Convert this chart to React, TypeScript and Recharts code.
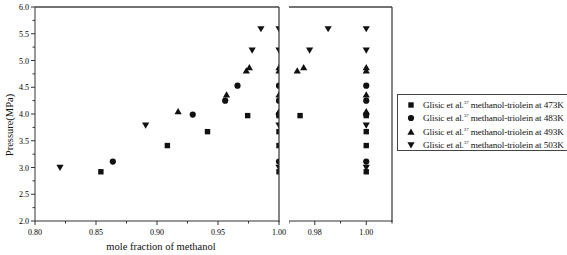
import React from "react";
import { Scatter, ScatterChart, XAxis, YAxis } from "recharts";

// series: bubble points (x < 1) followed by dew points at x = 1.00
const x473 = [0.854, 0.9085, 0.9414, 0.9743, 1, 1, 1, 1];
const p473 = [2.92, 3.41, 3.67, 3.97, 2.92, 3.41, 3.67, 3.97];
const x483 = [0.8638, 0.9293, 0.9559, 0.966, 1, 1, 1, 1];
const p483 = [3.11, 3.99, 4.25, 4.53, 3.11, 3.99, 4.25, 4.53];
const x493 = [0.9173, 0.957, 0.9732, 0.9757, 1, 1, 1, 1];
const p493 = [4.05, 4.36, 4.81, 4.87, 4.05, 4.36, 4.81, 4.87];
const x503 = [0.8205, 0.8907, 0.978, 0.9852, 1, 1, 1, 1];
const p503 = [3.0, 3.79, 5.19, 5.59, 3.0, 3.79, 5.19, 5.59];

const seriesNames = ["473K", "483K", "493K", "503K"];
const leftTicks = [0.8, 0.825, 0.85, 0.875, 0.9, 0.925, 0.95, 0.975, 1.0];
const leftMajor = [0.8, 0.85, 0.9, 0.95, 1.0];
const rightTicks = [0.97, 0.98, 0.99, 1.0, 1.01];
const rightMajor = [0.98, 1.0];
const yTicks = [2, 2.25, 2.5, 2.75, 3, 3.25, 3.5, 3.75, 4, 4.25, 4.5, 4.75, 5, 5.25, 5.5, 5.75, 6];

const ink = "#111";
const axisColor = "#333";
const font = "'Liberation Serif', 'Times New Roman', serif";

type Kind = "square" | "circle" | "up" | "down";
const kinds: Kind[] = ["square", "circle", "up", "down"];

const zip = (xs: number[], ps: number[]) => xs.map((x, i) => ({ x, p: ps[i] }));
const allSeries = [zip(x473, p473), zip(x483, p483), zip(x493, p493), zip(x503, p503)];

const Marker = ({ kind, cx, cy }: { kind: Kind; cx: number; cy: number }) => {
  if (kind === "square") return <rect x={cx - 2.7} y={cy - 2.7} width={5.4} height={5.4} fill={ink} />;
  if (kind === "circle") return <circle cx={cx} cy={cy} r={3.1} fill={ink} />;
  if (kind === "up")
    return <polygon points={`${cx},${cy - 3.4} ${cx + 3.6},${cy + 2.8} ${cx - 3.6},${cy + 2.8}`} fill={ink} />;
  return <polygon points={`${cx},${cy + 3.4} ${cx + 3.6},${cy - 2.8} ${cx - 3.6},${cy - 2.8}`} fill={ink} />;
};

const makeXTick = (major: number[]) => (props: any) => {
  const { x, y, payload } = props;
  const isMajor = major.some((m) => Math.abs(m - payload.value) < 1e-6);
  return (
    <g>
      <line x1={x} x2={x} y1={y} y2={y + (isMajor ? 4 : 2.5)} stroke={axisColor} />
      {isMajor && (
        <text x={x} y={y + 14} textAnchor="middle" fontSize={8} fontFamily={font} fill="#000">
          {payload.value.toFixed(2)}
        </text>
      )}
    </g>
  );
};

const YTick = (props: any) => {
  const { x, y, payload } = props;
  const isMajor = Math.abs(payload.value * 2 - Math.round(payload.value * 2)) < 1e-6;
  return (
    <g>
      <line x1={x} x2={x - (isMajor ? 4 : 2.5)} y1={y} y2={y} stroke={axisColor} />
      {isMajor && (
        <text x={x - 6} y={y + 3} textAnchor="end" fontSize={8} fontFamily={font} fill="#000">
          {payload.value.toFixed(1)}
        </text>
      )}
    </g>
  );
};

const Panel = ({
  width,
  rightMargin,
  domain,
  ticks,
  major,
  yAxisWidth,
  showY,
  minX,
}: {
  width: number;
  rightMargin: number;
  domain: [number, number];
  ticks: number[];
  major: number[];
  yAxisWidth: number;
  showY: boolean;
  minX: number;
}) => (
  <ScatterChart width={width} height={255} margin={{ top: 7, right: rightMargin, left: 0, bottom: 0 }}>
    <XAxis
      type="number"
      dataKey="x"
      domain={domain}
      ticks={ticks}
      interval={0}
      height={34}
      tickSize={0}
      tickMargin={0}
      tickLine={false}
      axisLine={{ stroke: axisColor }}
      tick={makeXTick(major)}
      allowDataOverflow
    />
    <YAxis
      type="number"
      dataKey="p"
      domain={[2, 6]}
      ticks={yTicks}
      interval={0}
      width={yAxisWidth}
      tickSize={0}
      tickMargin={0}
      tickLine={false}
      axisLine={{ stroke: axisColor }}
      tick={showY ? YTick : false}
      allowDataOverflow
    />
    {allSeries.map((s, i) => (
      <Scatter
        key={seriesNames[i]}
        name={seriesNames[i]}
        data={s.filter((d) => d.x >= minX)}
        isAnimationActive={false}
        shape={(p: any) => <Marker kind={kinds[i]} cx={p.cx} cy={p.cy} />}
      />
    ))}
  </ScatterChart>
);

// top and right border of a plot box
const Frame = ({ left, width }: { left: number; width: number }) => (
  <svg width={width + 2} height={220} style={{ position: "absolute", left, top: 5, pointerEvents: "none" }}>
    <line x1={0} x2={width} y1={2} y2={2} stroke="#444" strokeWidth={1.5} />
    <line x1={width} x2={width} y1={2} y2={217} stroke="#333" strokeWidth={1.2} />
  </svg>
);

export default function App() {
  return (
    <div style={{ position: "fixed", left: 0, top: 0, width: 567, height: 255, background: "#fff", fontFamily: font, overflow: "hidden" }}>
      <div style={{ position: "absolute", left: 0, top: 0 }}>
        <Panel width={292} rightMargin={13} domain={[0.8, 1.0]} ticks={leftTicks} major={leftMajor} yAxisWidth={35} showY minX={0.8} />
      </div>
      <div style={{ position: "absolute", left: 289, top: 0 }}>
        <Panel width={104} rightMargin={1} domain={[0.97, 1.01]} ticks={rightTicks} major={rightMajor} yAxisWidth={0} showY={false} minX={0.97} />
      </div>
      <Frame left={35} width={244} />
      <Frame left={289} width={103} />
      <div style={{ position: "absolute", left: 0, top: 125, width: 0, height: 0 }}>
        <div style={{ position: "absolute", transform: "translate(-50%, -50%) rotate(-90deg)", left: 9, top: 0, fontSize: 10.5, whiteSpace: "nowrap", color: "#111" }}>
          Pressure(MPa)
        </div>
      </div>
      <div style={{ position: "absolute", left: 161, top: 241, transform: "translateX(-50%)", fontSize: 10.5, whiteSpace: "nowrap", color: "#111" }}>
        mole fraction of methanol
      </div>
      <div
        style={{
          position: "absolute",
          left: 397,
          top: 94,
          width: 175,
          height: 57,
          border: "1px solid #444",
          boxSizing: "border-box",
          paddingTop: 3,
        }}
      >
        {seriesNames.map((n, i) => (
          <div key={n} style={{ display: "flex", alignItems: "center", height: 13.5, fontSize: 9.2, color: "#111", whiteSpace: "nowrap" }}>
            <svg width={24} height={12} style={{ flex: "none" }}>
              <Marker kind={kinds[i]} cx={13} cy={6} />
            </svg>
            <span style={{ marginLeft: 1, letterSpacing: -0.1 }}>
              Glisic et al.<sup style={{ fontSize: 5, verticalAlign: "4px", lineHeight: 0 }}>37</sup> methanol-triolein at {n}
            </span>
          </div>
        ))}
      </div>
    </div>
  );
}
